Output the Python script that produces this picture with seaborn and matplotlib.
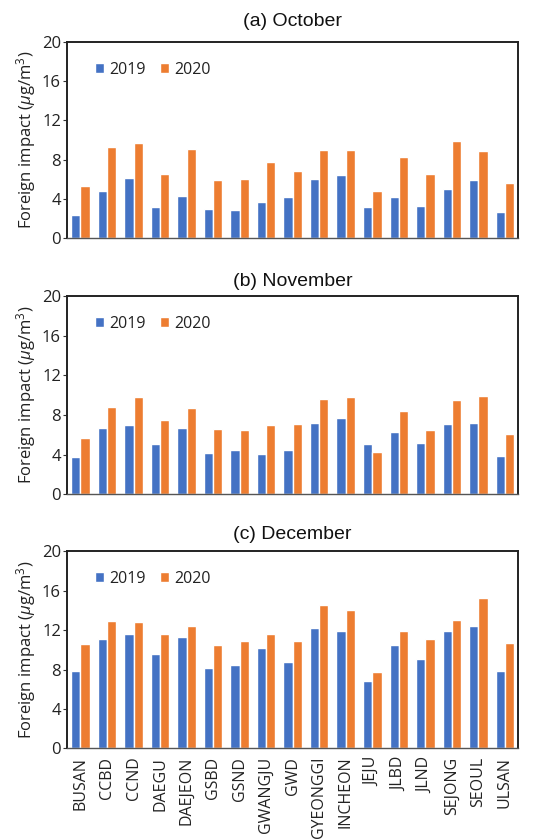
import matplotlib
matplotlib.use("Agg")
import matplotlib.pyplot as plt
import seaborn as sns
import pandas as pd

regions = ["BUSAN", "CCBD", "CCND", "DAEGU", "DAEJEON", "GSBD", "GSND", "GWANGJU",
           "GWD", "GYEONGGI", "INCHEON", "JEJU", "JLBD", "JLND", "SEJONG", "SEOUL", "ULSAN"]
years = ["2019", "2020"]

oct_2019 = [2.35, 4.8, 6.1, 3.2, 4.3, 3.0, 2.85, 3.7, 4.2, 6.0, 6.4, 3.2, 4.2, 3.3, 5.0, 5.9, 2.65]
oct_2020 = [5.3, 9.3, 9.7, 6.5, 9.1, 5.9, 6.0, 7.8, 6.9, 9.0, 9.0, 4.8, 8.3, 6.5, 9.9, 8.9, 5.6]

nov_2019 = [3.8, 6.65, 6.95, 5.05, 6.65, 4.15, 4.45, 4.05, 4.45, 7.15, 7.65, 5.05, 6.25, 5.2, 7.05, 7.15, 3.9]
nov_2020 = [5.7, 8.85, 9.8, 7.45, 8.75, 6.55, 6.45, 6.95, 7.05, 9.6, 9.8, 4.3, 8.45, 6.45, 9.5, 9.9, 6.1]

dec_2019 = [7.9, 11.1, 11.6, 9.6, 11.3, 8.2, 8.5, 10.2, 8.8, 12.2, 11.9, 6.8, 10.5, 9.1, 11.9, 12.4, 7.8]
dec_2020 = [10.6, 12.9, 12.8, 11.6, 12.45, 10.5, 10.9, 11.6, 10.9, 14.55, 14.0, 7.7, 11.9, 11.1, 13.05, 15.25, 10.7]

panels = [
    ("(a) October", oct_2019, oct_2020),
    ("(b) November", nov_2019, nov_2020),
    ("(c) December", dec_2019, dec_2020),
]

yticks = [0, 4, 8, 12, 16, 20]
palette = {"2019": "#4472C4", "2020": "#ED7D31"}

sns.set_theme(style="white")
plt.rcParams["font.family"] = ["Open Sans", "DejaVu Sans"]
plt.rcParams["mathtext.fontset"] = "custom"
plt.rcParams["mathtext.rm"] = "Open Sans"
plt.rcParams["mathtext.it"] = "Open Sans:italic"

fig = plt.figure(figsize=(5.42, 8.39), dpi=100)

# axes rectangles [left, bottom, width, height] in figure fraction, with title pads
rects = [
    [0.124, 0.716, 0.832, 0.234],
    [0.124, 0.411, 0.832, 0.236],
    [0.124, 0.108, 0.832, 0.235],
]
title_pads = [11.5, 7.5, 9.0]

for (title, v19, v20), rect, tpad in zip(panels, rects, title_pads):
    ax = fig.add_axes(rect)
    df = pd.DataFrame({
        "region": regions * 2,
        "year": [years[0]] * len(regions) + [years[1]] * len(regions),
        "value": v19 + v20,
    })
    sns.barplot(data=df, x="region", y="value", hue="year", palette=palette,
                width=0.7, gap=0, saturation=1, ax=ax, errorbar=None)
    ax.set_ylim(0, 20)
    ax.set_yticks(yticks)
    ax.set_xlim(-0.5, len(regions) - 0.5)
    ax.tick_params(axis="y", labelsize=12, length=3, width=0.8, color="#333333",
                   direction="out", left=True, pad=1.5, labelcolor="#222222")
    ax.set_ylabel(r"Foreign impact ($\mathit{\mu}$g/m$^3$)", fontsize=12,
                  color="#222222", labelpad=3)
    ax.set_xlabel("")
    for s in ["top", "right", "left"]:
        ax.spines[s].set_color("#222222")
        ax.spines[s].set_linewidth(1.4)
    ax.spines["bottom"].set_color("#555555")
    ax.spines["bottom"].set_linewidth(1.0)
    ax.set_title(title, fontsize=14, family="Liberation Sans",
                 color="#111111", pad=tpad)
    leg = ax.legend(loc="upper left", frameon=False, ncol=2, fontsize=11.5,
                    handlelength=0.57, handleheight=0.57, handletextpad=0.3,
                    columnspacing=0.9, bbox_to_anchor=(0.062, 0.9),
                    borderaxespad=0, borderpad=0)
    for t in leg.get_texts():
        t.set_color("#222222")
    if title.startswith("(c)"):
        ax.set_xticks(range(len(regions)))
        ax.set_xticklabels(regions, rotation=90, fontsize=11.5, color="#222222")
        ax.tick_params(axis="x", length=0, pad=6)
    else:
        ax.set_xticks([])

fig.savefig("out.png", dpi=100)
